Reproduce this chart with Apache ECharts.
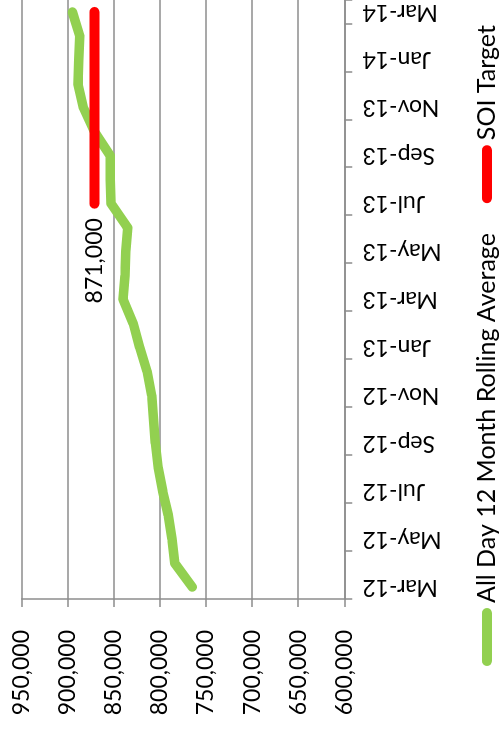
<!DOCTYPE html>
<html>
<head>
<meta charset="utf-8">
<script src="https://cdn.jsdelivr.net/npm/echarts@6/dist/echarts.min.js"></script>
<style>
  html, body { margin: 0; padding: 0; width: 500px; height: 733px; overflow: hidden; background: #fff; }
  /* the chart is laid out landscape and turned a quarter turn counter-clockwise */
  #chart { position: absolute; left: 0; top: 0; width: 733px; height: 500px; transform-origin: 0 0; transform: translate(0, 733px) rotate(-90deg); }
</style>
</head>
<body>
<div id="chart"></div>
<script>
// months on the category axis
const months = ['Mar-12', 'Apr-12', 'May-12', 'Jun-12', 'Jul-12', 'Aug-12', 'Sep-12', 'Oct-12', 'Nov-12', 'Dec-12',
  'Jan-13', 'Feb-13', 'Mar-13', 'Apr-13', 'May-13', 'Jun-13', 'Jul-13', 'Aug-13', 'Sep-13', 'Oct-13',
  'Nov-13', 'Dec-13', 'Jan-14', 'Feb-14', 'Mar-14'];

// All Day 12 Month Rolling Average
const rollingAvg = [765000, 784000, 787000, 791000, 797000, 802000, 805000, 807000, 809000, 814000,
  822000, 829000, 840000, 838000, 837000, 835000, 853000, 854000, 854000, 871000,
  883000, 889000, 888000, 887000, 895000];

// SOI Target (only from Jul-13)
const soiTarget = [null, null, null, null, null, null, null, null, null, null,
  null, null, null, null, null, null, 871000, 871000, 871000, 871000,
  871000, 871000, 871000, 871000, 871000];

const seriesNames = ['All Day 12 Month Rolling Average', 'SOI Target'];
const valueMin = 600000, valueMax = 950000, valueStep = 50000;

const fmt = v => Number(v).toLocaleString('en-US');
const gridGray = '#8c8c8c';
const font = 'Lato';

// label the first point of the target line
const firstTarget = soiTarget.findIndex(v => v != null);
const targetData = soiTarget.map((v, i) => i === firstTarget ? {
  value: v,
  label: { show: true, position: 'left', distance: 14, formatter: p => fmt(p.value), fontSize: 23, color: '#000', fontFamily: font }
} : v);

const chart = echarts.init(document.getElementById('chart'));
chart.setOption({
  animation: false,
  backgroundColor: '#fff',
  textStyle: { fontFamily: font },
  grid: { left: 134, top: 21.7, width: 600, height: 322.6, containLabel: false },
  legend: {
    left: 62, top: 468,
    itemWidth: 58, itemHeight: 10, itemGap: 30,
    icon: 'path://M5 0H53A5 5 0 0 1 53 10H5A5 5 0 0 1 5 0Z',
    selectedMode: false,
    textStyle: { fontSize: 25, color: '#000', fontFamily: font, lineHeight: 28 },
    data: seriesNames
  },
  xAxis: {
    type: 'category', data: months, boundaryGap: true,
    axisLine: { show: true, lineStyle: { color: gridGray, width: 1.5 } },
    axisTick: { show: true, interval: 1, length: 8, lineStyle: { color: gridGray, width: 1.5 } },
    axisLabel: { interval: 1, rotate: 90, margin: 18, fontSize: 23, color: '#000', fontFamily: font },
    splitLine: { show: false }
  },
  yAxis: {
    type: 'value', min: valueMin, max: valueMax, interval: valueStep,
    axisLine: { show: true, lineStyle: { color: gridGray, width: 1.5 } },
    axisTick: { show: true, length: 8, lineStyle: { color: gridGray, width: 1.5 } },
    axisLabel: { margin: 31, fontSize: 23, color: '#000', fontFamily: font, formatter: v => fmt(v) },
    splitLine: { show: true, lineStyle: { color: gridGray, width: 1.5 } }
  },
  series: [
    {
      name: seriesNames[0], type: 'line', data: rollingAvg,
      showSymbol: false, symbol: 'none',
      itemStyle: { color: '#92d050' },
      lineStyle: { color: '#92d050', width: 9.5, cap: 'round', join: 'round' }
    },
    {
      name: seriesNames[1], type: 'line', data: targetData,
      symbol: 'circle', symbolSize: 1,
      itemStyle: { color: '#ff0000' },
      lineStyle: { color: '#ff0000', width: 10, cap: 'round', join: 'round' }
    }
  ]
});
</script>
</body>
</html>
